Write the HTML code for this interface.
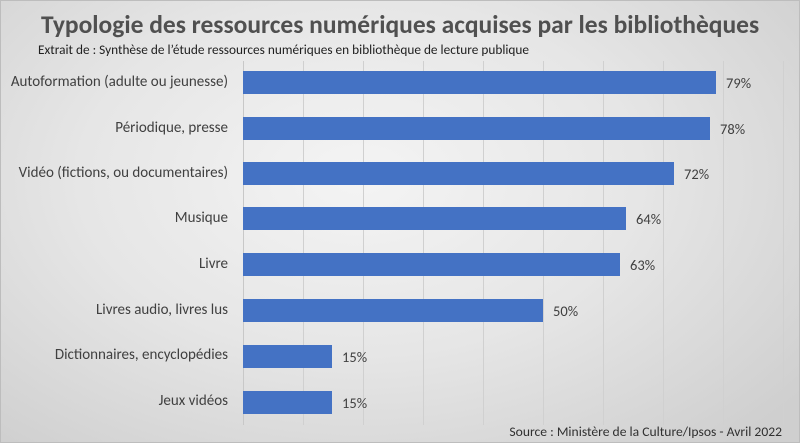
<!DOCTYPE html>
<html><head><meta charset="utf-8"><style>
body{margin:0;width:800px;height:443px;overflow:hidden;font-family:"Carlito","Liberation Sans",sans-serif;}
#c{position:relative;width:798px;height:441px;border:1px solid #bdbdbd;background:radial-gradient(ellipse 70% 80% at 45% 40%,#f4f4f4 0%,#e6e6e6 50%,#cfcfcf 100%);}
.t{position:absolute;white-space:nowrap;color:#404040;}
.g{position:absolute;top:60px;height:364px;width:1px;background:#d0d0d0;}
.b{position:absolute;left:242px;height:23px;background:#4472c4;}
.l{position:absolute;right:571px;font-size:15px;color:#404040;white-space:nowrap;}
.v{position:absolute;font-size:14.5px;color:#404040;}
</style></head><body><div id="c">
<div class="t" style="left:40px;top:8px;font-size:25.5px;font-weight:bold;color:#505050">Typologie des ressources numériques acquises par les bibliothèques</div>
<div class="t" style="left:37px;top:40px;font-size:13.3px;color:#202020">Extrait de : Synthèse de l’étude ressources numériques en bibliothèque de lecture publique</div>
<div class="g" style="left:242px;background:#c8c8c8"></div>
<div class="g" style="left:302px"></div><div class="g" style="left:362px"></div><div class="g" style="left:422px"></div><div class="g" style="left:482px"></div><div class="g" style="left:542px"></div><div class="g" style="left:602px"></div><div class="g" style="left:662px"></div><div class="g" style="left:722px"></div><div class="g" style="left:782px"></div>

<div class="l" style="top:72px">Autoformation (adulte ou jeunesse)</div><div class="b" style="top:70px;width:473px"></div><div class="v" style="left:725px;top:73px">79%</div>
<div class="l" style="top:118px">Périodique, presse</div><div class="b" style="top:116px;width:467px"></div><div class="v" style="left:719px;top:119px">78%</div>
<div class="l" style="top:163px">Vidéo (fictions, ou documentaires)</div><div class="b" style="top:161px;width:431px"></div><div class="v" style="left:683px;top:164px">72%</div>
<div class="l" style="top:208px">Musique</div><div class="b" style="top:206px;width:383px"></div><div class="v" style="left:635px;top:209px">64%</div>
<div class="l" style="top:254px">Livre</div><div class="b" style="top:252px;width:377px"></div><div class="v" style="left:629px;top:255px">63%</div>
<div class="l" style="top:300px">Livres audio, livres lus</div><div class="b" style="top:298px;width:300px"></div><div class="v" style="left:552px;top:301px">50%</div>
<div class="l" style="top:345px">Dictionnaires, encyclopédies</div><div class="b" style="top:344px;width:89px"></div><div class="v" style="left:341px;top:347px">15%</div>
<div class="l" style="top:391px">Jeux vidéos</div><div class="b" style="top:390px;width:89px"></div><div class="v" style="left:341px;top:393px">15%</div>

<div class="t" style="right:17px;top:422px;font-size:13.6px;color:#303030">Source : Ministère de la Culture/Ipsos - Avril 2022</div>
</div></body></html>
